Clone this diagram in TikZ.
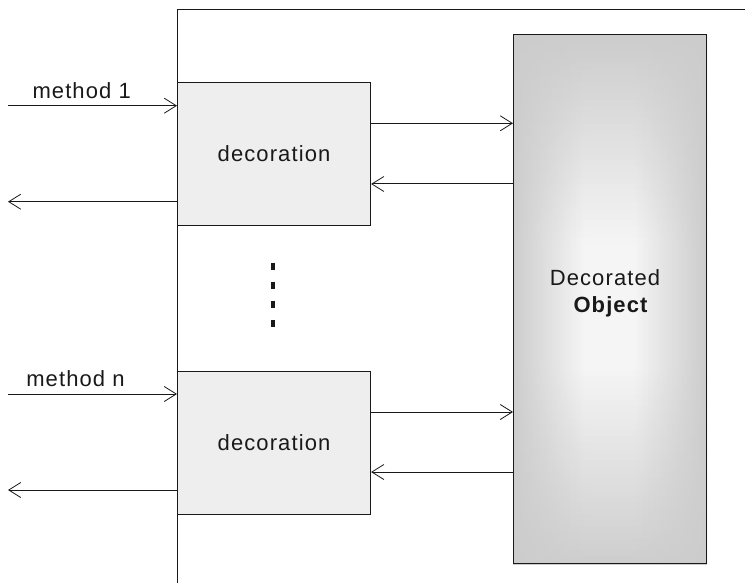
\documentclass[tikz,border=0pt]{standalone}
\usepackage{fontspec}
\setmainfont{Liberation Sans}[LetterSpace=5]
\usetikzlibrary{arrows.meta,backgrounds,calc}
\definecolor{decofill}{RGB}{238,238,238}
\definecolor{ink}{RGB}{25,25,25}
\begin{document}
\begin{tikzpicture}[x=1pt,y=-1pt,
  every node/.style={font=\fontsize{22}{26}\selectfont, inner sep=0pt, text=ink},
  decobox/.style={draw=ink, line width=1.1pt, fill=decofill, minimum width=193pt, minimum height=143.3pt, anchor=north west},
  objbox/.style={draw=ink, line width=1.2pt, minimum width=193pt, minimum height=529pt, anchor=north west},
  wire/.style={draw=ink, line width=1pt, -{Straight Barb[length=12pt,width=15pt,line width=0.8pt]}},
  frame/.style={draw=ink, line width=1pt},
  label/.style={anchor=base},
  ]
\useasboundingbox (0,0) rectangle (745,583);

% frame
\coordinate (fbot) at (177,583);
\coordinate (ftop) at (177,10);
\coordinate (fright) at (745,10);
\draw[frame] (fbot) -- (ftop) -- (fright);

% boxes
\node[decobox] (d1) at (177,81.7) {decoration};
\node[decobox] (d2) at (177,370.7) {decoration};
\node[objbox] (obj) at (513,34) {};

\begin{scope}[on background layer]
  \clip (obj.south west) rectangle (obj.north east);
  \foreach \r in {0,...,88}{
    \pgfmathsetmacro\ya{34+\r*6}
    \pgfmathsetmacro\yb{\ya+6.6}
    \pgfmathsetmacro\vt{max(0,1-abs(\ya+3-305)/266)}
    \pgfmathsetmacro\vv{min(1,1.3*\vt)}
    \foreach \j in {0,...,64}{
      \pgfmathsetmacro\xa{513+\j*3}
      \pgfmathsetmacro\xb{\xa+3.6}
      \pgfmathsetmacro\tt{min(1,min(\j*3+1.5,193-\j*3-1.5)/72)}
      \pgfmathsetmacro\cc{20-16*\vv*\tt}
      \fill[black!\cc] (\xa,\ya) rectangle (\xb,\yb);
    }
  }
\end{scope}

\node[label] (dec) at (605,285) {Decorated};
\node[label] (objt) at (610.5,312) {\bfseries Object};

% labels
\node[label] (m1) at (81.7,98.7) {method 1};
\node[label] (mn) at (75.5,386.7) {method n};

% left wires
\coordinate (in1) at (8,105.7);
\coordinate (out1) at (8,201.7);
\coordinate (in2) at (8,394);
\coordinate (out2) at (8,490);
\draw[wire] (in1) -- (in1 -| d1.west);
\draw[wire] (out1 -| d1.west) -- (out1);
\draw[wire] (in2) -- (in2 -| d2.west);
\draw[wire] (out2 -| d2.west) -- (out2);

% right wires
\draw[wire] (d1.east |- 0,123.3) -- (obj.west |- 0,123.3);
\draw[wire] (obj.west |- 0,184) -- (d1.east |- 0,184);
\draw[wire] (d2.east |- 0,412) -- (obj.west |- 0,412);
\draw[wire] (obj.west |- 0,472) -- (d2.east |- 0,472);

% dots
\coordinate (dtop) at (273,262.5);
\coordinate (dbot) at (273,330);
\draw[ink, line width=4pt, dash pattern=on 7pt off 12pt] (dtop) -- (dbot);
\end{tikzpicture}
\end{document}
